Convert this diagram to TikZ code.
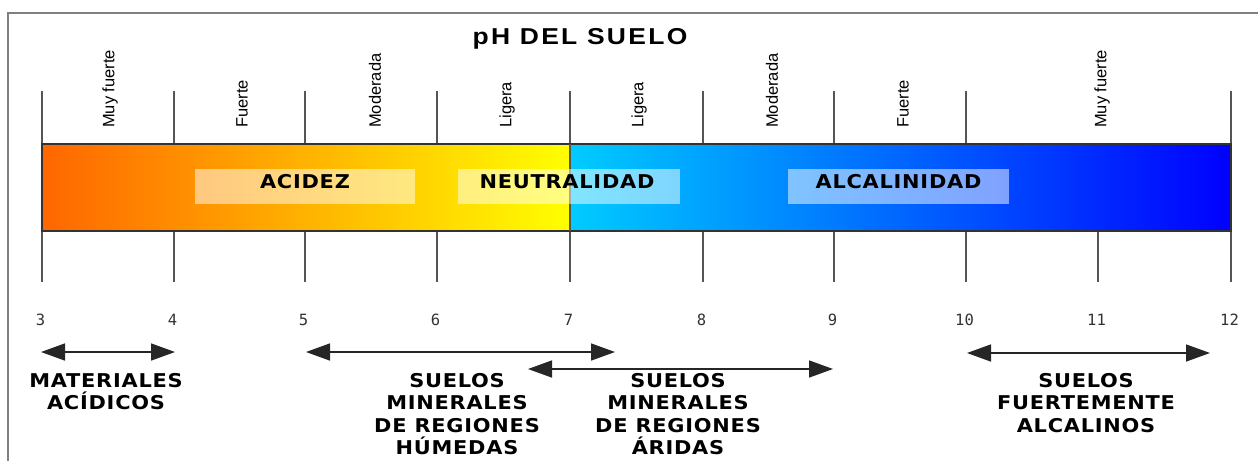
\documentclass[tikz,border=0pt]{standalone}
\usepackage{fontspec}
\setmainfont{Liberation Sans}
\newfontfamily\labfont[LetterSpace=4,FakeStretch=1.1]{DejaVu Sans Bold}
\newfontfamily\titlefont[LetterSpace=10,FakeStretch=1.15]{Liberation Sans Bold}
\newfontfamily\numfont{DejaVu Sans Mono}
\usetikzlibrary{arrows.meta}
\definecolor{orA}{RGB}{255,102,0}
\definecolor{orB}{RGB}{255,180,0}
\definecolor{yeC}{RGB}{255,255,0}
\definecolor{blA}{RGB}{0,204,255}
\definecolor{blB}{RGB}{0,140,255}
\definecolor{blC}{RGB}{0,0,255}
\definecolor{framegray}{RGB}{128,128,128}
\definecolor{tickgray}{RGB}{85,85,85}
\definecolor{numgray}{RGB}{50,50,50}
\begin{document}
\begin{tikzpicture}[x=1pt,y=-1pt,
  frameline/.style={draw=framegray,line width=2pt},
  tickline/.style={draw=tickgray,line width=1.8pt},
  barborder/.style={draw=black!80,line width=1.2pt},
  rotlab/.style={rotate=90,anchor=west,inner sep=0pt,font=\fontsize{16.5}{17}\selectfont,text=black},
  numlab/.style={anchor=base,inner sep=0pt,font=\numfont\fontsize{15.5}{15.5}\selectfont,text=numgray},
  labbox/.style={fill=white,fill opacity=0.5,draw=none,minimum height=35pt,inner sep=0pt},
  bandlab/.style={inner sep=0pt,font=\labfont\fontsize{19}{22}\selectfont,text=black},
  bottomlab/.style={anchor=north,inner sep=0pt,align=center,font=\labfont\fontsize{19}{22.5}\selectfont,text=black},
  rangearrow/.style={draw=black!85,line width=1.5pt,{Triangle[length=24pt,width=17pt]}-{Triangle[length=24pt,width=17pt]}}
]
\useasboundingbox (0,0) rectangle (1258,461);
% frame
\draw[frameline] (8,461) -- (8,13) -- (1258,13);
% title
\node[anchor=base,inner sep=0pt,font=\titlefont\fontsize{23}{23}\selectfont] (title) at (580,44) {pH DEL SUELO};
% ticks
\foreach \i/\xx in {3/42,4/174,5/305,6/437,7/570,8/703,9/834,10/966,11/1098,12/1231}{
  \draw[tickline] (\xx,231) -- (\xx,282);
  \node[numlab] (n\i) at (\xx-1.5,325) {\i};
}
\foreach \xx in {42,174,305,437,570,703,834,966,1231}{
  \draw[tickline] (\xx,91) -- (\xx,144);
}
% bar
\fill[left color=orA,middle color=orB,right color=yeC] (42,144) rectangle (570,231);
\fill[left color=blA,middle color=blB,right color=blC] (570,144) rectangle (1231,231);
\draw[barborder] (42,144) rectangle (1231,231);
\draw[tickline] (570,144) -- (570,231);
% band labels
\node[labbox,minimum width=220pt] (accbox) at (305,186.5) {};
\node[labbox,minimum width=222pt] (neubox) at (569,186.5) {};
\node[labbox,minimum width=221pt] (alcbox) at (898.5,186.5) {};
\node[bandlab] (acc) at ([yshift=4.5pt]accbox.center) {ACIDEZ};
\node[bandlab] (neu) at ([yshift=4.5pt,xshift=-2pt]neubox.center) {NEUTRALIDAD};
\node[bandlab] (alc) at ([yshift=4.5pt]alcbox.center) {ALCALINIDAD};
% rotated labels
\node[rotlab] (r1) at (110,128) {Muy fuerte};
\node[rotlab] (r2) at (242,128) {Fuerte};
\node[rotlab] (r3) at (375,128) {Moderada};
\node[rotlab] (r4) at (507,128) {Ligera};
\node[rotlab] (r5) at (639,128) {Ligera};
\node[rotlab] (r6) at (772,128) {Moderada};
\node[rotlab] (r7) at (903,128) {Fuerte};
\node[rotlab] (r8) at (1102,128) {Muy fuerte};
% range arrows
\coordinate (a1l) at (41,352);  \coordinate (a1r) at (175,352);
\coordinate (a2l) at (306,352); \coordinate (a2r) at (615,352);
\coordinate (a3l) at (528,369); \coordinate (a3r) at (833,369);
\coordinate (a4l) at (967,353); \coordinate (a4r) at (1210,353);
\draw[rangearrow] (a1l) -- (a1r);
\draw[rangearrow] (a2l) -- (a2r);
\draw[rangearrow] (a3l) -- (a3r);
\draw[rangearrow] (a4l) -- (a4r);
% bottom labels
\node[bottomlab] (mat) at (106,373) {MATERIALES\\ACÍDICOS};
\node[bottomlab] (hum) at (457,373) {SUELOS\\MINERALES\\DE REGIONES\\HÚMEDAS};
\node[bottomlab] (ari) at (678,373) {SUELOS\\MINERALES\\DE REGIONES\\ÁRIDAS};
\node[bottomlab] (fal) at (1086,373) {SUELOS\\FUERTEMENTE\\ALCALINOS};
\end{tikzpicture}
\end{document}
